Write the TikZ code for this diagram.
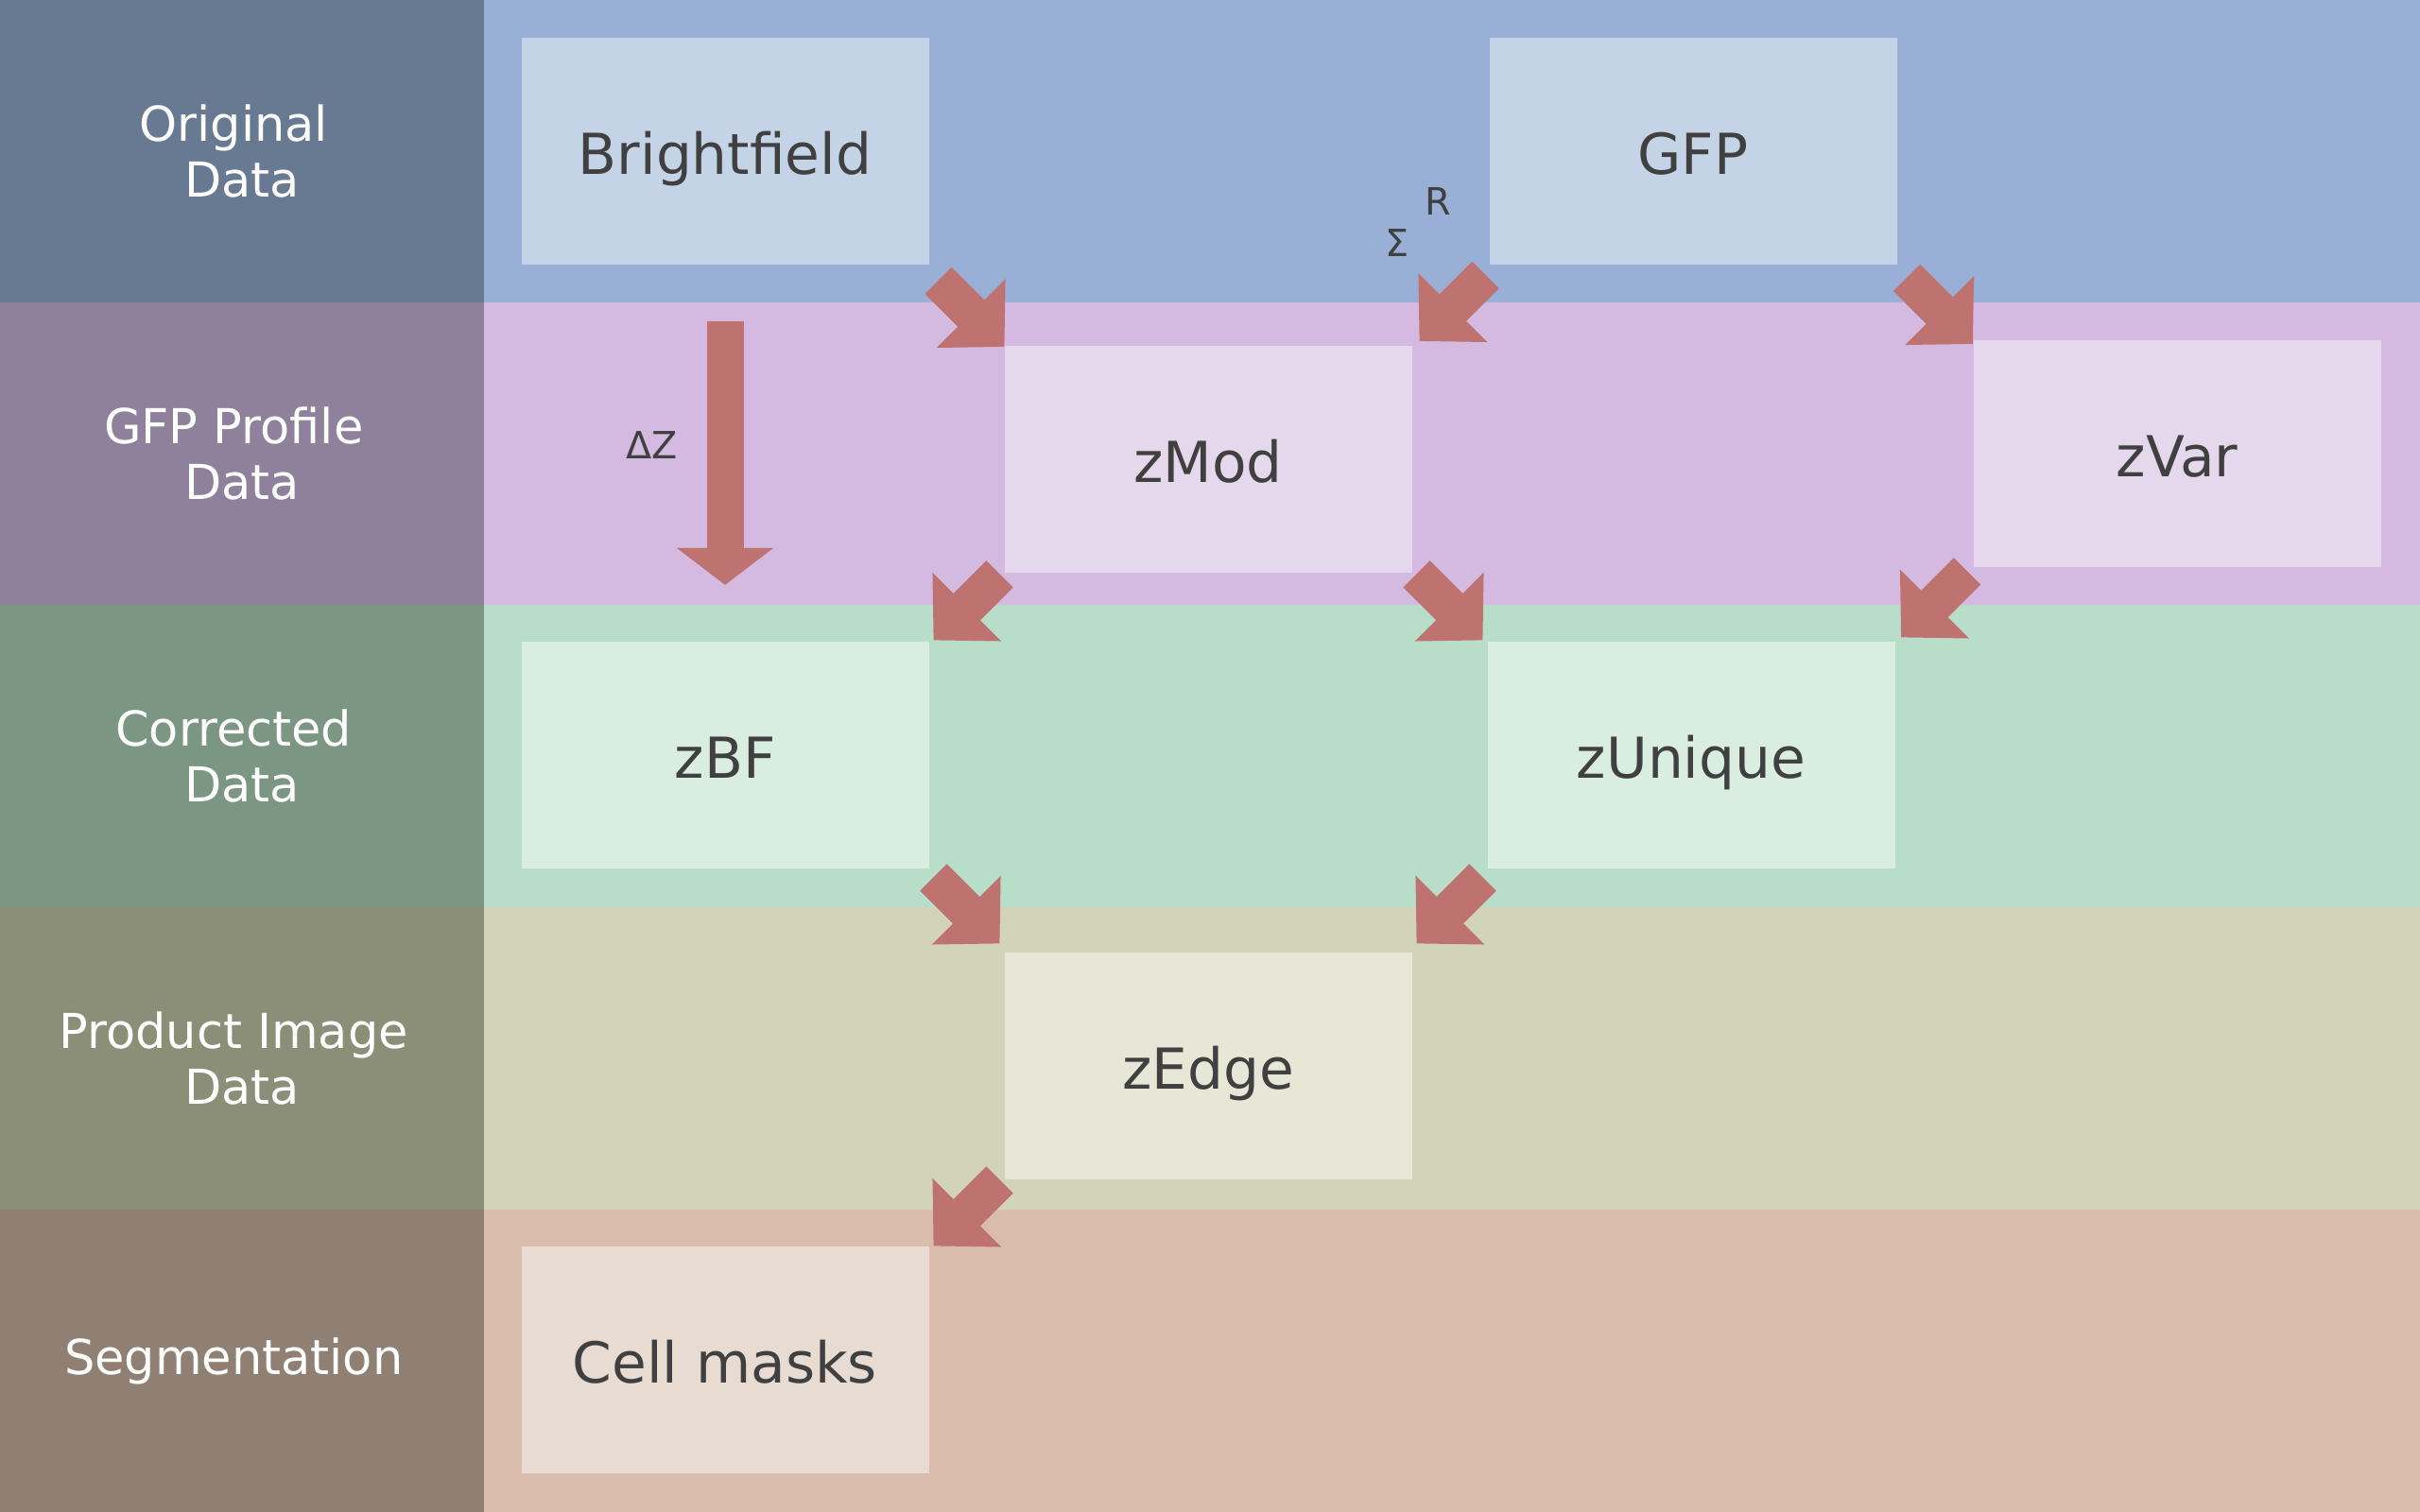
\documentclass[tikz,border=0pt]{standalone}
\usepackage{fontspec}
\setmainfont{DejaVu Sans}
\definecolor{origDark}{HTML}{687992}
\definecolor{origLight}{HTML}{9AAFD5}
\definecolor{origBox}{HTML}{C5D3E6}
\definecolor{profDark}{HTML}{8F819B}
\definecolor{profLight}{HTML}{D4BAE1}
\definecolor{profBox}{HTML}{E5D8ED}
\definecolor{corrDark}{HTML}{7C9684}
\definecolor{corrLight}{HTML}{B8DDC8}
\definecolor{corrBox}{HTML}{D9EDE1}
\definecolor{prodDark}{HTML}{8B8F77}
\definecolor{prodLight}{HTML}{D2D4B9}
\definecolor{prodBox}{HTML}{E6E7D7}
\definecolor{segDark}{HTML}{908073}
\definecolor{segLight}{HTML}{D9BCAB}
\definecolor{segBox}{HTML}{E8DBD2}
\definecolor{arrowRed}{HTML}{BF7370}
\definecolor{textGrey}{HTML}{404040}
\newcommand{\trailsp}{\kern5pt}
\usetikzlibrary{arrows.meta,positioning,calc}

\begin{document}
\begin{tikzpicture}[
    lanelabel/.style={rectangle, minimum width=5.12cm, minimum height=3.2cm, inner sep=0pt, outer sep=0pt, align=center, text=white, font=\fontsize{14.5}{16.7}\selectfont},
    databox/.style={rectangle, minimum width=4.31cm, minimum height=2.4cm, inner sep=0pt, outer sep=0pt, text height=0.5cm, text depth=0pt, text=textGrey, font=\fontsize{17}{20}\selectfont},
    fatarrow/.style={draw=arrowRed, line width=4mm, -{Triangle[length=5mm, width=10mm]}},
    smalltext/.style={text=textGrey, inner sep=0pt, outer sep=0pt, font=\fontsize{11.3}{13.5}\selectfont}]
    \useasboundingbox (0,0) rectangle (25.6,16);

    % lanes
    \fill[origLight] (0,12.8) rectangle (25.6,16);
    \fill[profLight] (0,9.6) rectangle (25.6,12.8);
    \fill[corrLight] (0,6.4) rectangle (25.6,9.6);
    \fill[prodLight] (0,3.2) rectangle (25.6,6.4);
    \fill[segLight] (0,0) rectangle (25.6,3.2);

    \node[lanelabel, fill=origDark] (origlab) at (2.56,14.4) {Original\trailsp\\Data};
    \node[lanelabel, fill=profDark] (proflab) at (2.56,11.2) {GFP Profile\trailsp\\Data};
    \node[lanelabel, fill=corrDark] (corrlab) at (2.56,8.0) {Corrected\trailsp\\Data};
    \node[lanelabel, fill=prodDark] (prodlab) at (2.56,4.8) {Product Image\trailsp\\Data};
    \node[lanelabel, fill=segDark] (seglab) at (2.56,1.6) {Segmentation\trailsp};

    % data boxes
    \node[databox, fill=origBox] (bright) at (7.67,14.4) {Brightfield};
    \node[databox, fill=origBox, right=5.93cm of bright] (gfp) {GFP};

    \node[databox, fill=profBox, below right=0.86cm and 0.8cm of bright] (zmod) {zMod};
    \node[databox, fill=profBox, below right=0.8cm and 0.81cm of gfp] (zvar) {zVar};

    \node[databox, fill=corrBox, below left=0.73cm and 0.8cm of zmod] (zbf) {zBF};
    \node[databox, fill=corrBox, below right=0.73cm and 0.8cm of zmod] (zunique) {zUnique};

    \node[databox, fill=prodBox, below right=0.89cm and 0.8cm of zbf] (zedge) {zEdge};

    \node[databox, fill=segBox, below left=0.71cm and 0.8cm of zedge] (cells) {Cell masks};

    % arrows, centred in the gap between corners
    \draw[fatarrow] ($(bright.south east)!.5!(zmod.north west)+(-.30,.26)$) -- ++(.7,-.7);
    \draw[fatarrow] ($(gfp.south west)!.5!(zmod.north east)+(.37,.32)$) -- ++(-.7,-.7);
    \draw[fatarrow] ($(gfp.south east)!.5!(zvar.north west)+(-.30,.26)$) -- ++(.7,-.7);
    \draw[fatarrow] ($(zmod.south west)!.5!(zbf.north east)+(.35,.35)$) -- ++(-.7,-.7);
    \draw[fatarrow] ($(zmod.south east)!.5!(zunique.north west)+(-.35,.35)$) -- ++(.7,-.7);
    \draw[fatarrow] ($(zvar.south west)!.5!(zunique.north east)+(.35,.35)$) -- ++(-.7,-.7);
    \draw[fatarrow] ($(zbf.south east)!.5!(zedge.north west)+(-.35,.35)$) -- ++(.7,-.7);
    \draw[fatarrow] ($(zunique.south west)!.5!(zedge.north east)+(.35,.35)$) -- ++(-.7,-.7);
    \draw[fatarrow] ($(zedge.south west)!.5!(cells.north east)+(.35,.35)$) -- ++(-.7,-.7);

    \draw[fatarrow, line width=3.9mm, -{Triangle[length=3.9mm, width=10mm]}, shorten <=6mm, shorten >=6mm] (bright.south) -- node[smalltext, pos=0.48, left=0.5cm] (dz) {ΔZ} (zbf.north);

    \node[smalltext] (sigma) at ([shift={(-0.97,0.23)}]gfp.south west) {Σ};
    \node[smalltext] (sumr) at ([shift={(-0.54,0.67)}]gfp.south west) {R};
\end{tikzpicture}
\end{document}
